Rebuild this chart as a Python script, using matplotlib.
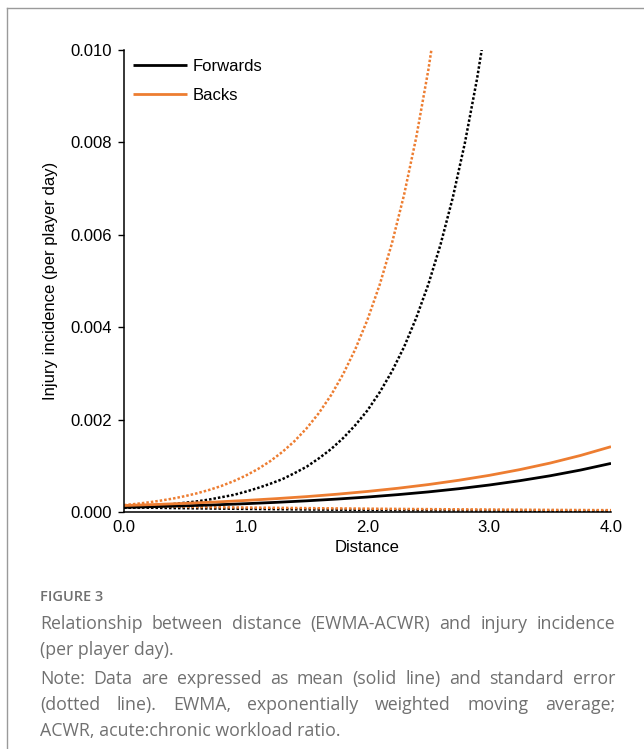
import matplotlib
matplotlib.use("Agg")
import matplotlib.pyplot as plt
from matplotlib.lines import Line2D

# values
x_fine = [0.0, 0.1, 0.2, 0.3, 0.4, 0.5, 0.6, 0.7, 0.8, 0.9, 1.0,
          1.1, 1.2, 1.3, 1.4, 1.5, 1.6, 1.7, 1.8, 1.9, 2.0,
          2.1, 2.2, 2.3, 2.4, 2.5, 2.6, 2.7, 2.8, 2.9, 3.0]
fwd_upper = [0.00009, 0.00010, 0.00012, 0.00014, 0.00017, 0.00020, 0.00023,
             0.00027, 0.00032, 0.00037, 0.00044, 0.00052, 0.00061, 0.00071,
             0.00084, 0.00098, 0.00116, 0.00136, 0.00160, 0.00188, 0.00220,
             0.00259, 0.00304, 0.00357, 0.00420, 0.00493, 0.00579, 0.00680,
             0.00799, 0.00938, 0.01102]
backs_upper = [0.000149, 0.000176, 0.000208, 0.000246, 0.000290, 0.000343,
               0.000405, 0.000478, 0.000564, 0.000667, 0.000788, 0.000930,
               0.001099, 0.001298, 0.001533, 0.001811, 0.002139, 0.002526,
               0.002984, 0.003525, 0.004164, 0.004918, 0.005809, 0.006862,
               0.008105, 0.009574, 0.011305]

x_mean = [0.0, 0.25, 0.5, 0.75, 1.0, 1.25, 1.5, 1.75, 2.0,
          2.25, 2.5, 2.75, 3.0, 3.25, 3.5, 3.75, 4.0]
fwd_mean = [0.000100, 0.000116, 0.000134, 0.000155, 0.000180, 0.000209,
            0.000242, 0.000280, 0.000324, 0.000376, 0.000435, 0.000504,
            0.000584, 0.000677, 0.000784, 0.000908, 0.001052]
backs_mean = [0.000140, 0.000162, 0.000187, 0.000216, 0.000250, 0.000289,
              0.000333, 0.000385, 0.000445, 0.000514, 0.000594, 0.000687,
              0.000793, 0.000917, 0.001059, 0.001224, 0.001414]

x_low = [0.0, 0.5, 1.0, 1.5, 2.0, 2.5, 3.0, 3.5, 4.0]
fwd_lower = [0.000100, 0.000082, 0.000067, 0.000055, 0.000045,
             0.000037, 0.000030, 0.000024, 0.000020]
backs_lower = [0.000130, 0.000112, 0.000097, 0.000084, 0.000072,
               0.000062, 0.000054, 0.000046, 0.000040]

y_ticks = [0.0, 0.002, 0.004, 0.006, 0.008, 0.010]
x_ticks = [0.0, 1.0, 2.0, 3.0, 4.0]

black = "#000000"
orange = "#ED7D31"

plt.rcParams['font.family'] = ['Liberation Sans', 'DejaVu Sans']

fig = plt.figure(figsize=(6.44, 7.49), dpi=100)
ax = fig.add_axes([124/644, 1-512/749, (611-124)/644, (512-50)/749])

dots = (0, (1, 0.8))
ax.plot(x_fine[:len(fwd_upper)], fwd_upper, color=black, lw=1.8, ls=dots)
ax.plot(x_low, fwd_lower, color=black, lw=1.8, ls=dots)
ax.plot(x_fine[:len(backs_upper)], backs_upper, color=orange, lw=1.8, ls=dots)
ax.plot(x_low, backs_lower, color=orange, lw=1.8, ls=dots)
ax.plot(x_mean, fwd_mean, color=black, lw=2.0, label="Forwards",
        solid_capstyle='butt')
ax.plot(x_mean, backs_mean, color=orange, lw=2.0, label="Backs",
        solid_capstyle='butt')

ax.set_xlim(0, 4.0)
ax.set_ylim(0, 0.010)
ax.set_xticks(x_ticks)
ax.set_xticklabels(["%.1f" % v for v in x_ticks])
ax.set_yticks(y_ticks)
ax.set_yticklabels(["%.3f" % v for v in y_ticks])
ax.tick_params(axis='y', direction='out', length=4.5, width=1.0, pad=4,
               labelsize=12)
ax.tick_params(axis='x', length=0, pad=6, labelsize=12)
for s in ['top', 'right']:
    ax.spines[s].set_visible(False)
for s in ['left', 'bottom']:
    ax.spines[s].set_linewidth(1.1)
ax.set_xlabel("Distance", fontsize=12, labelpad=3)
ax.set_ylabel("Injury incidence (per player day)", fontsize=12, labelpad=9)

leg = ax.legend(loc='upper left', bbox_to_anchor=(0.0, 1.0), frameon=False,
                fontsize=12, handlelength=3.2, handletextpad=0.35,
                labelspacing=0.85, borderaxespad=0.15, borderpad=0.4)

# outer frame of the figure panel
frame_col = "#9a9a9a"
fig.add_artist(Line2D([7/644, 1.0], [1-8/749, 1-8/749], color=frame_col,
                      lw=1.0, transform=fig.transFigure))
fig.add_artist(Line2D([7/644, 7/644], [1-8/749, 0.0], color=frame_col,
                      lw=1.0, transform=fig.transFigure))

# caption
cap_col = "#707070"
cap_font = ['Open Sans', 'DejaVu Sans']
cap_size = 12.8
fig.text(40/644, 1-597/749, "FIGURE 3", fontsize=10.5, color=cap_col,
         family=cap_font, weight='semibold', va='center')

caption = [
    ("Relationship between distance (EWMA-ACWR) and injury incidence", True),
    ("(per player day).", False),
    ("Note: Data are expressed as mean (solid line) and standard error", True),
    ("(dotted line). EWMA, exponentially weighted moving average;", True),
    ("ACWR, acute:chronic workload ratio.", False),
]
cap_y = [624, 650, 679, 705, 731]
left_px, right_px = 40, 615

fig.canvas.draw()
renderer = fig.canvas.get_renderer()
for (line, justify), ypx in zip(caption, cap_y):
    yf = 1 - ypx/749
    if not justify:
        fig.text(left_px/644, yf, line, fontsize=cap_size, color=cap_col,
                 family=cap_font, va='center')
        continue
    words = line.split(" ")
    widths = []
    for w in words:
        t = fig.text(0, 0, w, fontsize=cap_size, family=cap_font)
        widths.append(t.get_window_extent(renderer).width)
        t.remove()
    gap = (right_px - left_px - sum(widths)) / (len(words) - 1)
    xp = left_px
    for w, wd in zip(words, widths):
        fig.text(xp/644, yf, w, fontsize=cap_size, color=cap_col,
                 family=cap_font, va='center')
        xp += wd + gap

fig.savefig("out.png", dpi=100)
